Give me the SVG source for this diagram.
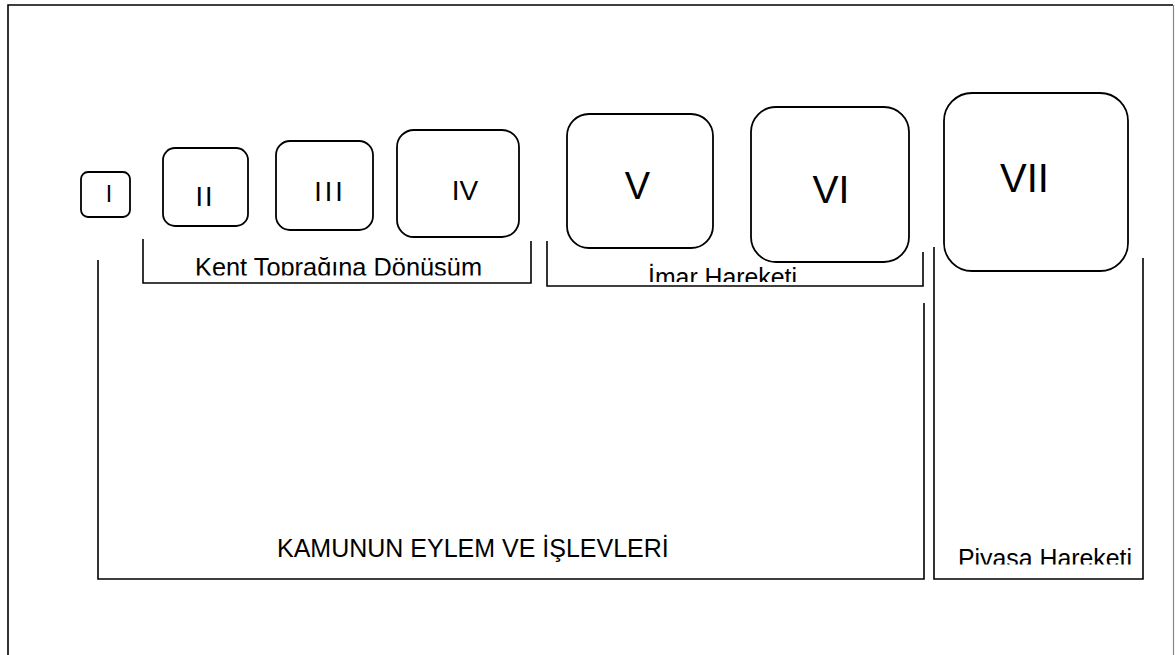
<svg xmlns="http://www.w3.org/2000/svg" width="1175" height="655" viewBox="0 0 1175 655">
<style>
.box{fill:#fff;stroke:#000;stroke-width:1.8}
.br{fill:none;stroke:#000;stroke-width:1.6}
.num{font-family:"Liberation Sans",Arial,sans-serif;fill:#000;text-anchor:middle}
.lbl{font-family:"Liberation Sans",Arial,sans-serif;fill:#000;font-size:25px}
</style>
<defs>
<clipPath id="cKent"><rect x="140" y="240" width="390" height="35.5"/></clipPath>
<clipPath id="cImar"><rect x="550" y="250" width="370" height="32"/></clipPath>
<clipPath id="cPiy"><rect x="940" y="530" width="200" height="34.5"/></clipPath>
</defs>
<rect width="1175" height="655" fill="#fff"/>
<g id="frame">
<path d="M8,660 V5 H1173" fill="none" stroke="#000" stroke-width="1.6"/>
<path d="M1173.5,5 V660" fill="none" stroke="#888" stroke-width="1.2"/>
</g>
<g id="connectors">
<path class="br" d="M143,239 V283 H531 V241"/>
<path class="br" d="M547,241 V286 H923 V252"/>
<path class="br" d="M98,260 V579 H924 V303"/>
<path class="br" d="M934,247 V579 H1143 V258"/>
</g>
<g id="n1"><rect class="box" x="81" y="172" width="49" height="45" rx="7"/><text class="num" x="109" y="202" font-size="23">I</text></g>
<g id="n2"><rect class="box" x="163" y="148" width="85" height="78" rx="12"/><text class="num" x="205" y="206" font-size="27" letter-spacing="2">II</text></g>
<g id="n3"><rect class="box" x="276" y="141" width="97" height="89" rx="14"/><text class="num" x="330" y="201" font-size="27" letter-spacing="3">III</text></g>
<g id="n4"><rect class="box" x="397" y="130" width="122" height="107" rx="17"/><text class="num" x="465" y="200" font-size="28">IV</text></g>
<g id="n5"><rect class="box" x="567" y="114" width="146" height="134" rx="22"/><text class="num" x="637.5" y="199" font-size="38">V</text></g>
<g id="n6"><rect class="box" x="751" y="107" width="158" height="155" rx="25"/><text class="num" x="831" y="203" font-size="39">VI</text></g>
<g id="n7"><rect class="box" x="944" y="93" width="184" height="178" rx="28"/><text class="num" x="1024.5" y="192" font-size="40">VII</text></g>
<g id="labels">
<text class="lbl" x="195" y="276" textLength="287" lengthAdjust="spacingAndGlyphs" clip-path="url(#cKent)">Kent Toprağına Dönüşüm</text>
<text class="lbl" x="648" y="286" textLength="149" lengthAdjust="spacingAndGlyphs" clip-path="url(#cImar)">İmar Hareketi</text>
<text class="lbl" x="277" y="557" font-size="20">KAMUNUN EYLEM VE İŞLEVLERİ</text>
<text class="lbl" x="958" y="567" textLength="174" lengthAdjust="spacingAndGlyphs" clip-path="url(#cPiy)">Piyasa Hareketi</text>
</g>
</svg>
